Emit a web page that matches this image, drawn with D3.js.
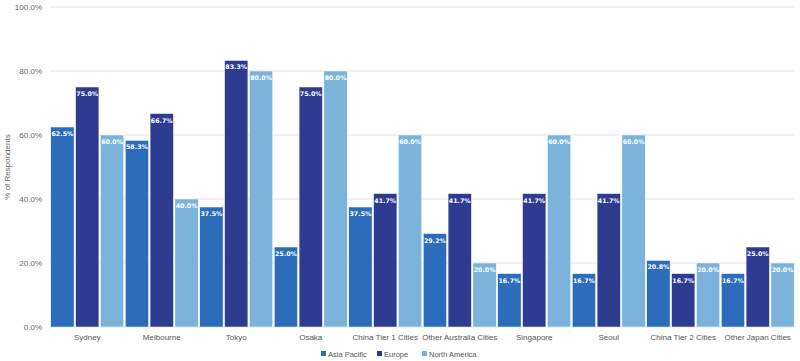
<!DOCTYPE html>
<html><head><meta charset="utf-8">
<script src="https://cdn.jsdelivr.net/npm/d3@7"></script>
<style>body{margin:0;background:#fff}svg{display:block}</style>
</head><body><svg id="c" width="800" height="361"></svg>
<script>
const categories = ["Sydney","Melbourne","Tokyo","Osaka","China Tier 1 Cities","Other Australia Cities","Singapore","Seoul","China Tier 2 Cities","Other Japan Cities"];
const seriesNames = ["Asia Pacific","Europe","North America"];
const asiaPacific = [62.5,58.3,37.5,25.0,37.5,29.2,16.7,16.7,20.8,16.7];
const europe = [75.0,66.7,83.3,75.0,41.7,41.7,41.7,41.7,16.7,25.0];
const northAmerica = [60.0,40.0,80.0,80.0,60.0,20.0,60.0,60.0,20.0,20.0];
const yTicks = [0,20,40,60,80,100];
const colors = ["#2b6cbb","#2d3c91","#7cb3da"];
const seriesValues = [asiaPacific, europe, northAmerica];

const svg = d3.select("#c");
const m = {l:50, r:795, t:7, b:327};
const x = d3.scaleBand().domain(categories).range([m.l, m.r]).padding(0);
const xs = d3.scaleBand().domain(seriesNames).range([0, x.bandwidth()]).padding(0);
const y = d3.scaleLinear().domain([0,100]).range([m.b, m.t]);

const font = "'Liberation Sans', Arial, sans-serif";
// grid
svg.append("g").selectAll("line").data(yTicks).join("line")
  .attr("x1", m.l).attr("x2", m.r)
  .attr("y1", d=>y(d)).attr("y2", d=>y(d))
  .attr("stroke", "#e3e3e3").attr("stroke-width", 1);
svg.append("g").selectAll("text").data(yTicks).join("text")
  .attr("x", 42).attr("y", d=>y(d)+3)
  .attr("text-anchor","end").attr("font-family",font).attr("font-size",8)
  .attr("fill","#666").text(d=>d.toFixed(1)+"%");

svg.append("text").attr("transform","translate(10,167) rotate(-90)")
  .attr("text-anchor","middle").attr("font-family",font).attr("font-size",8)
  .attr("fill","#666").text("% of Respondents");

const g = svg.append("g");
categories.forEach((c,i)=>{
  seriesNames.forEach((s,j)=>{
    const v = seriesValues[j][i];
    const bx = x(c)+xs(s);
    g.append("rect").attr("x", bx+0.75).attr("y", y(v))
      .attr("width", xs.bandwidth()-1.5).attr("height", y(0)-y(v))
      .attr("fill", colors[j]).attr("stroke","#fff").attr("stroke-width",0.5);
    g.append("text").attr("x", bx+xs.bandwidth()/2).attr("y", y(v)+9)
      .attr("text-anchor","middle").attr("font-family","'DejaVu Sans', Verdana, sans-serif")
      .attr("font-size",6.3).attr("font-weight","bold").attr("fill","#fff")
      .text(v.toFixed(1)+"%");
  });
});

svg.append("g").selectAll("text").data(categories).join("text")
  .attr("x", d=>x(d)+x.bandwidth()/2).attr("y", 340)
  .attr("text-anchor","middle").attr("font-family",font).attr("font-size",8)
  .attr("fill","#555").text(d=>d);

const legendX = [321, 377, 422];
const lg = svg.append("g");
seriesNames.forEach((s,j)=>{
  lg.append("rect").attr("x", legendX[j]).attr("y", 351).attr("width",5).attr("height",5).attr("fill",colors[j]);
  lg.append("text").attr("x", legendX[j]+7).attr("y", 356.5).attr("font-family",font)
    .attr("font-size",7.5).attr("fill","#555").text(s);
});
</script></body></html>
